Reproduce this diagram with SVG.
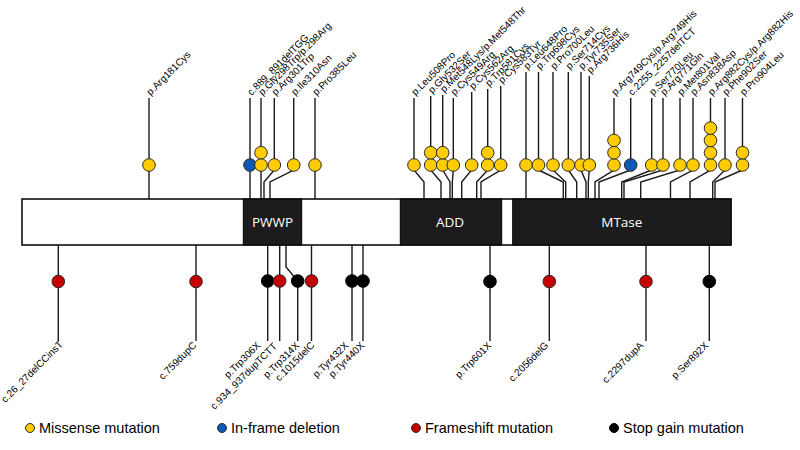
<svg xmlns="http://www.w3.org/2000/svg" width="800" height="450" viewBox="0 0 800 450">
<style>
.ln{fill:none;stroke:#1a1a1a;stroke-width:1.4}
.y{fill:#FFCC00;stroke:#2a2a2a;stroke-width:1}
.b{fill:#0E58B4;stroke:#2a2a2a;stroke-width:1}
.r{fill:#C40000;stroke:#2a2a2a;stroke-width:1}
.k{fill:#000;stroke:#000;stroke-width:1}
.lt{font-family:"Liberation Sans",Arial,sans-serif;font-size:10px;fill:#000}
.tt{text-anchor:start}
.bt{text-anchor:end}
.dm{fill:#1c1c1c;stroke:#000;stroke-width:1}
.dt{font-family:"Open Sans","Liberation Sans",sans-serif;font-size:13.5px;fill:#fff;text-anchor:middle}
.lg{font-family:"Liberation Sans",Arial,sans-serif;font-size:14.5px;fill:#000}
</style>
<rect width="800" height="450" fill="#fff"/>
<g id="connectors">
<path class="ln" d="M149 98V199"/>
<path class="ln" d="M250 98V199"/>
<path class="ln" d="M261 98V199"/>
<path class="ln" d="M274.3 98V170L264 182V199"/>
<path class="ln" d="M293.7 98V170L270 182V199"/>
<path class="ln" d="M315 98V199"/>
<path class="ln" d="M414 98V170L424 182V199"/>
<path class="ln" d="M430.7 96V170L441 182V199"/>
<path class="ln" d="M442.7 95V170L450 182V199"/>
<path class="ln" d="M453.3 98V170L452.3 182V199"/>
<path class="ln" d="M471.7 92V170L461.7 182V199"/>
<path class="ln" d="M487.7 89V170L476.7 182V199"/>
<path class="ln" d="M500.7 86V170L481 182V199"/>
<path class="ln" d="M526 72V199"/>
<path class="ln" d="M538.5 72V170L563.3 182V199"/>
<path class="ln" d="M553 72V170L565.7 182V199"/>
<path class="ln" d="M568.3 72V170L576.7 182V199"/>
<path class="ln" d="M581 72V170L586 182V199"/>
<path class="ln" d="M589.3 76V170L588.3 182V199"/>
<path class="ln" d="M614 98V170L595 182V199"/>
<path class="ln" d="M630.7 98V170L599 182V199"/>
<path class="ln" d="M651.7 98V170L621.7 182V199"/>
<path class="ln" d="M663 98V170L624 182V199"/>
<path class="ln" d="M680 98V170L640.7 182V199"/>
<path class="ln" d="M693 98V170L670.5 182V199"/>
<path class="ln" d="M710.5 98V170L690 182V199"/>
<path class="ln" d="M725 98V170L712.7 182V199"/>
<path class="ln" d="M742.5 98V170L715 182V199"/>
<path class="ln" d="M58.3 245V341"/>
<path class="ln" d="M196 245V341"/>
<path class="ln" d="M267.7 245V341"/>
<path class="ln" d="M279.7 245V341"/>
<path class="ln" d="M286 245V267L297.7 281V341"/>
<path class="ln" d="M311.5 245V341"/>
<path class="ln" d="M352 245V341"/>
<path class="ln" d="M363 245V341"/>
<path class="ln" d="M490 245V341"/>
<path class="ln" d="M549.3 245V341"/>
<path class="ln" d="M646 245V341"/>
<path class="ln" d="M709.3 245V341"/>
</g>
<g id="protein">
<rect x="22" y="199" width="709" height="46" fill="#fff" stroke="#000" stroke-width="1.5"/>
</g>
<g id="PWWP"><rect class="dm" x="243.3" y="199" width="58.4" height="46"/><text class="dt" x="272.5" y="226.8">PWWP</text></g>
<g id="ADD"><rect class="dm" x="400.3" y="199" width="101.4" height="46"/><text class="dt" x="450" y="226.8">ADD</text></g>
<g id="MTase"><rect class="dm" x="512.7" y="199" width="218.3" height="46"/><text class="dt" x="621.8" y="226.8">MTase</text></g>

<g id="m-Arg181Cys"><circle class="y" cx="149" cy="165" r="6.3"/><text class="lt tt" transform="translate(150.5 96) rotate(-45)">p.Arg181Cys</text></g>
<g id="m-c889"><circle class="b" cx="250" cy="165" r="6.3"/><text class="lt tt" transform="translate(251.5 96) rotate(-45)">c.889_891delTGG</text></g>
<g id="m-Gly298"><circle class="y" cx="261" cy="165" r="6.3"/><circle class="y" cx="261" cy="152.7" r="6.3"/><text class="lt tt" transform="translate(262.5 96) rotate(-45)">p.Gly298Trp/p.298Arg</text></g>
<g id="m-Arg301Trp"><circle class="y" cx="274.3" cy="165" r="6.3"/><text class="lt tt" transform="translate(275.8 96) rotate(-45)">p.Arg301Trp</text></g>
<g id="m-Ile310Asn"><circle class="y" cx="293.7" cy="165" r="6.3"/><text class="lt tt" transform="translate(295.2 96) rotate(-45)">p.Ile310Asn</text></g>
<g id="m-Pro385Leu"><circle class="y" cx="315" cy="165" r="6.3"/><text class="lt tt" transform="translate(316.5 96) rotate(-45)">p.Pro385Leu</text></g>
<g id="m-Leu508Pro"><circle class="y" cx="414" cy="165" r="6.3"/><text class="lt tt" transform="translate(415.5 96) rotate(-45)">p.Leu508Pro</text></g>
<g id="m-Gly532Ser"><circle class="y" cx="430.7" cy="165" r="6.3"/><circle class="y" cx="430.7" cy="152.7" r="6.3"/><text class="lt tt" transform="translate(432.2 94) rotate(-45)">p.Gly532Ser</text></g>
<g id="m-Met548"><circle class="y" cx="442.7" cy="165" r="6.3"/><circle class="y" cx="442.7" cy="152.7" r="6.3"/><text class="lt tt" transform="translate(444.2 93) rotate(-45)">p.Met548Lys/p.Met548Thr</text></g>
<g id="m-Cys549Arg"><circle class="y" cx="453.3" cy="165" r="6.3"/><text class="lt tt" transform="translate(454.8 96) rotate(-45)">p.Cys549Arg</text></g>
<g id="m-Cys562Arg"><circle class="y" cx="471.7" cy="165" r="6.3"/><text class="lt tt" transform="translate(473.2 90) rotate(-45)">p.Cys562Arg</text></g>
<g id="m-Trp581Cys"><circle class="y" cx="487.7" cy="165" r="6.3"/><circle class="y" cx="487.7" cy="152.7" r="6.3"/><text class="lt tt" transform="translate(489.2 87) rotate(-45)">p.Trp581Cys</text></g>
<g id="m-Cys583Tyr"><circle class="y" cx="500.7" cy="165" r="6.3"/><text class="lt tt" transform="translate(502.2 84) rotate(-45)">p.Cys583Tyr</text></g>
<g id="m-Leu648Pro"><circle class="y" cx="526" cy="165" r="6.3"/><text class="lt tt" transform="translate(527.5 70) rotate(-45)">p.Leu648Pro</text></g>
<g id="m-Trp698Cys"><circle class="y" cx="538.5" cy="165" r="6.3"/><text class="lt tt" transform="translate(540 70) rotate(-45)">p.Trp698Cys</text></g>
<g id="m-Pro700Leu"><circle class="y" cx="553" cy="165" r="6.3"/><text class="lt tt" transform="translate(554.5 70) rotate(-45)">p.Pro700Leu</text></g>
<g id="m-Ser714Cys"><circle class="y" cx="568.3" cy="165" r="6.3"/><text class="lt tt" transform="translate(569.8 70) rotate(-45)">p.Ser714Cys</text></g>
<g id="m-Tyr735Ser"><circle class="y" cx="581" cy="165" r="6.3"/><text class="lt tt" transform="translate(582.5 70) rotate(-45)">p.Tyr735Ser</text></g>
<g id="m-Arg736His"><circle class="y" cx="589.3" cy="165" r="6.3"/><text class="lt tt" transform="translate(590.8 74) rotate(-45)">p.Arg736His</text></g>
<g id="m-Arg749"><circle class="y" cx="614" cy="165" r="6.3"/><circle class="y" cx="614" cy="152.7" r="6.3"/><circle class="y" cx="614" cy="140.4" r="6.3"/><text class="lt tt" transform="translate(615.5 96) rotate(-45)">p.Arg749Cys/p.Arg749His</text></g>
<g id="m-c2255"><circle class="b" cx="630.7" cy="165" r="6.3"/><text class="lt tt" transform="translate(632.2 96) rotate(-45)">c.2255_2257delTCT</text></g>
<g id="m-Ser770Leu"><circle class="y" cx="651.7" cy="165" r="6.3"/><text class="lt tt" transform="translate(653.2 96) rotate(-45)">p.Ser770Leu</text></g>
<g id="m-Arg771Gln"><circle class="y" cx="663" cy="165" r="6.3"/><text class="lt tt" transform="translate(664.5 96) rotate(-45)">p.Arg771Gln</text></g>
<g id="m-Met801Val"><circle class="y" cx="680" cy="165" r="6.3"/><text class="lt tt" transform="translate(681.5 96) rotate(-45)">p.Met801Val</text></g>
<g id="m-Asn838Asp"><circle class="y" cx="693" cy="165" r="6.3"/><text class="lt tt" transform="translate(694.5 96) rotate(-45)">p.Asn838Asp</text></g>
<g id="m-Arg882"><circle class="y" cx="710.5" cy="165" r="6.3"/><circle class="y" cx="710.5" cy="152.7" r="6.3"/><circle class="y" cx="710.5" cy="140.4" r="6.3"/><circle class="y" cx="710.5" cy="128.1" r="6.3"/><text class="lt tt" transform="translate(712 96) rotate(-45)">p.Arg882Cys/p.Arg882His</text></g>
<g id="m-Phe902Ser"><circle class="y" cx="725" cy="165" r="6.3"/><text class="lt tt" transform="translate(726.5 96) rotate(-45)">p.Phe902Ser</text></g>
<g id="m-Pro904Leu"><circle class="y" cx="742.5" cy="165" r="6.3"/><circle class="y" cx="742.5" cy="152.7" r="6.3"/><text class="lt tt" transform="translate(744 96) rotate(-45)">p.Pro904Leu</text></g>

<g id="m-c26"><circle class="r" cx="58.3" cy="281.5" r="6.3"/><text class="lt bt" font-size="9" transform="translate(63.5 345) rotate(-45)">c.26_27delCCinsT</text></g>
<g id="m-c759"><circle class="r" cx="196" cy="281.5" r="6.3"/><text class="lt bt" transform="translate(197 346) rotate(-45)">c.759dupC</text></g>
<g id="m-Trp306X"><circle class="k" cx="267.7" cy="281" r="6.3"/><text class="lt bt" transform="translate(261 346) rotate(-45)">p.Trp306X</text></g>
<g id="m-c934"><circle class="r" cx="279.7" cy="281" r="6.3"/><text class="lt bt" transform="translate(277.5 347) rotate(-45)">c.934_937dupTCTT</text></g>
<g id="m-Trp314X"><circle class="k" cx="297.7" cy="281" r="6.3"/><text class="lt bt" transform="translate(300 346) rotate(-45)">p.Trp314X</text></g>
<g id="m-c1015"><circle class="r" cx="311.5" cy="281" r="6.3"/><text class="lt bt" transform="translate(315 346) rotate(-45)">c.1015delC</text></g>
<g id="m-Tyr432X"><circle class="k" cx="352" cy="281" r="6.3"/><text class="lt bt" transform="translate(349 346) rotate(-45)">p.Tyr432X</text></g>
<g id="m-Tyr440X"><circle class="k" cx="363" cy="281" r="6.3"/><text class="lt bt" transform="translate(365 346) rotate(-45)">p.Tyr440X</text></g>
<g id="m-Trp601X"><circle class="k" cx="490" cy="281.5" r="6.3"/><text class="lt bt" transform="translate(492 346) rotate(-45)">p.Trp601X</text></g>
<g id="m-c2056"><circle class="r" cx="549.3" cy="281.5" r="6.3"/><text class="lt bt" transform="translate(549 346) rotate(-45)">c.2056delG</text></g>
<g id="m-c2297"><circle class="r" cx="646" cy="281.5" r="6.3"/><text class="lt bt" transform="translate(644 346) rotate(-45)">c.2297dupA</text></g>
<g id="m-Ser892X"><circle class="k" cx="709.3" cy="281.5" r="6.3"/><text class="lt bt" transform="translate(709 346) rotate(-45)">p.Ser892X</text></g>

<g id="legend">
<circle class="y" cx="30" cy="428" r="4.5"/><text class="lg" x="39" y="433">Missense mutation</text>
<circle class="b" cx="222" cy="428" r="4.5"/><text class="lg" x="231" y="433">In-frame deletion</text>
<circle class="r" cx="416" cy="428" r="4.5"/><text class="lg" x="425" y="433">Frameshift mutation</text>
<circle class="k" cx="614" cy="428" r="4.5"/><text class="lg" x="623" y="433">Stop gain mutation</text>
</g>
</svg>
